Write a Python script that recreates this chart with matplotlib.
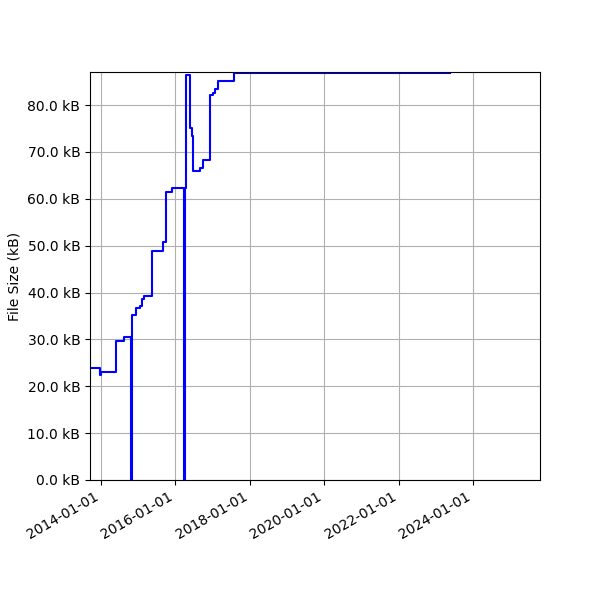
import pandas as pd
import matplotlib
matplotlib.use("Agg")
import matplotlib.pyplot as plt
import matplotlib.dates as mdates
from matplotlib.ticker import FuncFormatter

# file size history (kB)
dates = [
    "2013-09-13", "2013-12-18", "2014-01-03", "2014-05-23", "2014-08-18",
    "2014-10-23", "2014-10-27", "2014-11-03", "2014-12-05", "2015-01-15",
    "2015-02-08", "2015-02-28", "2015-05-13", "2015-09-03", "2015-10-02",
    "2015-11-30", "2016-03-27", "2016-04-01", "2016-04-13", "2016-05-27",
    "2016-06-12", "2016-06-17", "2016-09-01", "2016-09-28", "2016-12-03",
    "2017-01-08", "2017-01-27", "2017-02-17", "2017-08-02", "2023-05-19",
]
sizes_kb = [
    24.0, 22.4, 23.1, 29.7, 30.6,
    0.0, 31.3, 35.2, 36.6, 37.2,
    38.7, 39.2, 48.8, 50.8, 61.4,
    62.3, 0.0, 62.3, 86.4, 75.1,
    73.4, 65.9, 66.5, 68.2, 82.1,
    82.6, 83.5, 85.1, 86.9, 86.9,
]
x_start, x_end = "2013-09-13", "2025-10-22"
y_top = 87.05

df = pd.DataFrame({"date": pd.to_datetime(dates), "size": sizes_kb})

fig, ax = plt.subplots(figsize=(6, 6), dpi=100)
ax.plot(df["date"], df["size"], color="blue", drawstyle="steps-post")

ax.set_xlim(pd.Timestamp(x_start), pd.Timestamp(x_end))
ax.set_ylim(0, y_top)
ax.xaxis.set_major_locator(mdates.YearLocator(2))
ax.xaxis.set_major_formatter(mdates.DateFormatter("%Y-%m-%d"))
ax.yaxis.set_major_formatter(FuncFormatter(lambda v, _: f"{v:.1f} kB"))
ax.set_ylabel("File Size (kB)")
ax.grid(True)

fig.autofmt_xdate()
fig.subplots_adjust(left=0.15, right=0.9, bottom=0.2, top=0.88)
fig.savefig("out.png")
